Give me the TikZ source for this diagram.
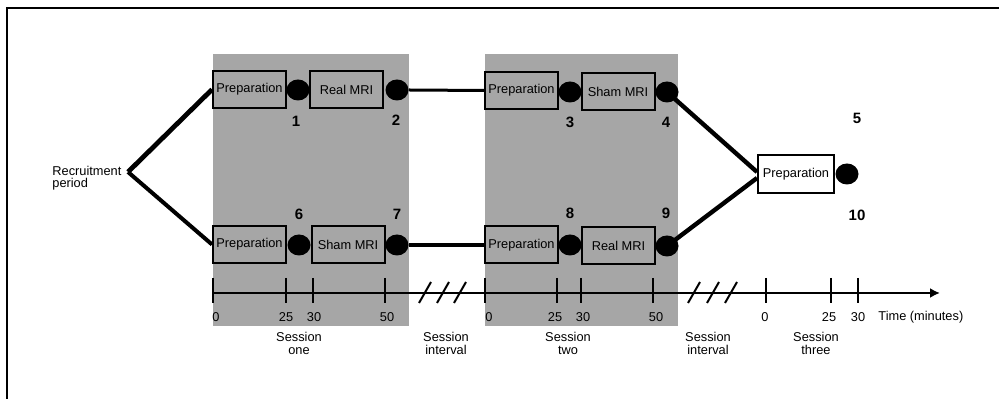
\documentclass[tikz,border=0pt]{standalone}
\usepackage{fontspec}
\setmainfont{Liberation Sans}
\usetikzlibrary{shapes.geometric,arrows.meta}
\definecolor{band}{RGB}{166,166,166}
\begin{document}
\begin{tikzpicture}[x=0.5pt,y=-0.5pt,
 font=\fontsize{6.4}{6.5}\selectfont,
 stagebox/.style={draw, line width=1pt, fill=band, minimum width=36.5pt, minimum height=18.5pt, inner sep=0pt},
 blob/.style={ellipse, fill=black, minimum width=11.5pt, minimum height=10.5pt, inner sep=0pt},
 num/.style={font=\fontsize{7.5}{8}\selectfont\bfseries, inner sep=0pt},
 tlabel/.style={inner sep=0pt},
 slbl/.style={align=center, inner sep=0pt},
 tickmark/.style={line width=1pt},
 slashmark/.style={line width=1pt}]
\useasboundingbox (0,0) rectangle (999,399);
\fill[white] (0,0) rectangle (999,399);
\draw[line width=1.2pt] (7,399) -- (7,8) -- (999,8);
\fill[band] (213,54) rectangle (409,326);
\fill[band] (485,54) rectangle (678,326);

% boxes
\node[stagebox] (p1) at (249.5,89.5) {Preparation};
\node[stagebox] (m1) at (346.5,89.5) {Real MRI};
\node[stagebox] (p6) at (249.5,244.5) {Preparation};
\node[stagebox] (m6) at (348,244.5) {Sham MRI};
\node[stagebox] (p3) at (521.5,90.5) {Preparation};
\node[stagebox] (m3) at (618,92) {Sham MRI};
\node[stagebox] (p8) at (521.5,245) {Preparation};
\node[stagebox] (m8) at (618.5,246) {Real MRI};
\node[stagebox, fill=white, minimum width=38pt, minimum height=19pt] (p5) at (796,174) {Preparation};

% dots
\node[blob] (d1) at (298,90) {};
\node[blob] (d2) at (397,90) {};
\node[blob] (d6) at (299,245) {};
\node[blob] (d7) at (397,245) {};
\node[blob] (d3) at (570,92) {};
\node[blob] (d4) at (667,92) {};
\node[blob] (d8) at (570,245) {};
\node[blob] (d9) at (667,246) {};
\node[blob] (d5) at (847,174) {};

% recruitment
\node[align=left, anchor=west, inner sep=0pt, font=\fontsize{6.4}{6}\selectfont] (rp) at (52,178) {Recruitment\\period};
\coordinate (br) at (128,172);
\draw[line width=2.4pt] (br) -- (p1.west);
\draw[line width=2pt] (br) -- (p6.west);
\draw[line width=1.5pt] (d2.east) -- (p3.west);
\draw[line width=2.4pt] (d7.east) -- (p8.west);
\draw[line width=2.2pt] (d4.center) -- ([yshift=1pt]p5.west);
\draw[line width=2.2pt] (d9.center) -- ([yshift=-2pt]p5.west);

% numbers
\node[num] (n1) at (296,121) {1};
\node[num] (n2) at (396,120) {2};
\node[num] (n3) at (570,122) {3};
\node[num] (n4) at (666,122) {4};
\node[num] (n5) at (857,118) {5};
\node[num] (n6) at (299,214) {6};
\node[num] (n7) at (397,214) {7};
\node[num] (n8) at (570,213) {8};
\node[num] (n9) at (666,213) {9};
\node[num] (n10) at (857,215) {10};

% timeline
\coordinate (tstart) at (213,293);
\coordinate (tend) at (940,293);
\draw[line width=1.4pt, -{Latex[length=5pt,width=5pt]}] (tstart) -- (tend);
\foreach \x in {213,286,313,385,485,557,581,653,766,831,858}
  \draw[tickmark] (\x,278) -- (\x,303);
\foreach \x in {425,443,460,694,713,731}
  \draw[slashmark] (\x-6,303) -- (\x+6,282);

\node[tlabel] (a0) at (216,317) {0};
\node[tlabel] (a25) at (286,317) {25};
\node[tlabel] (a30) at (314,317) {30};
\node[tlabel] (a50) at (387,317) {50};
\node[tlabel] (b0) at (489,317) {0};
\node[tlabel] (b25) at (555,317) {25};
\node[tlabel] (b30) at (583,317) {30};
\node[tlabel] (b50) at (656,317) {50};
\node[tlabel] (c0) at (765,317) {0};
\node[tlabel] (c25) at (829,317) {25};
\node[tlabel] (c30) at (858,317) {30};
\node[tlabel, anchor=west] (tm) at (878,317) {Time (minutes)};

\node[slbl] (s1) at (299,343.5) {Session\\one};
\node[slbl] (s12) at (446,343.5) {Session\\interval};
\node[slbl] (s2) at (568,343.5) {Session\\two};
\node[slbl] (s23) at (708,343.5) {Session\\interval};
\node[slbl] (s3) at (816,343.5) {Session\\three};
\end{tikzpicture}
\end{document}
